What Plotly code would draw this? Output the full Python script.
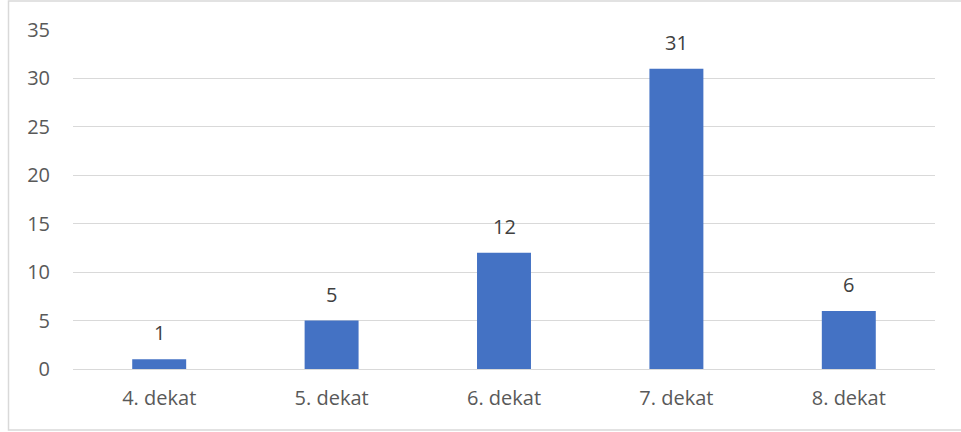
import plotly.graph_objects as go

# Number of students per grade
categories = ["4. dekat", "5. dekat", "6. dekat", "7. dekat", "8. dekat"]
counts = [1, 5, 12, 31, 6]
y_ticks = [0, 5, 10, 15, 20, 25, 30, 35]

BAR_COLOR = "#4472C4"
TEXT_COLOR = "#595959"
GRID_COLOR = "#D9D9D9"
FONT = "Open Sans, Liberation Sans, sans-serif"
FS = 20

W, H = 961, 432
ML, MR, MT, MB = 73, 26, 30, 63
pw, ph = W - ML - MR, H - MT - MB

fig = go.Figure(
    go.Bar(
        x=categories,
        y=counts,
        marker=dict(color=BAR_COLOR, line=dict(width=0)),
        hoverinfo="x+y",
    )
)

# value labels above each bar
for c, v in zip(categories, counts):
    fig.add_annotation(
        x=c, y=v, text=str(v), showarrow=False,
        yanchor="bottom", yshift=11,
        font=dict(size=FS, color="#404040", family=FONT),
    )

# outer chart frame
def px_x(px):
    return (px - ML) / pw

def px_y(py):
    return (H - MB - py) / ph

fig.add_shape(
    type="rect", xref="paper", yref="paper",
    x0=px_x(8.5), x1=px_x(W + 2), y0=px_y(430), y1=px_y(1),
    line=dict(color="#D9D9D9", width=1.5), fillcolor="rgba(0,0,0,0)",
    layer="below",
)

fig.update_layout(
    width=W, height=H,
    margin=dict(l=ML, r=MR, t=MT, b=MB),
    paper_bgcolor="white",
    plot_bgcolor="white",
    bargap=0.687,
    showlegend=False,
    font=dict(family=FONT, color=TEXT_COLOR, size=FS),
    xaxis=dict(
        showgrid=False, showline=False, zeroline=False,
        ticks="", tickfont=dict(size=FS, color=TEXT_COLOR),
        ticklabelstandoff=15,
    ),
    yaxis=dict(
        range=[0, 35], tickvals=y_ticks,
        showgrid=True, gridcolor=GRID_COLOR, gridwidth=1,
        zeroline=True, zerolinecolor=GRID_COLOR, zerolinewidth=1,
        showline=False, ticks="",
        tickfont=dict(size=FS, color=TEXT_COLOR),
        ticklabelstandoff=22,
    ),
)

fig.write_html("out.html")
